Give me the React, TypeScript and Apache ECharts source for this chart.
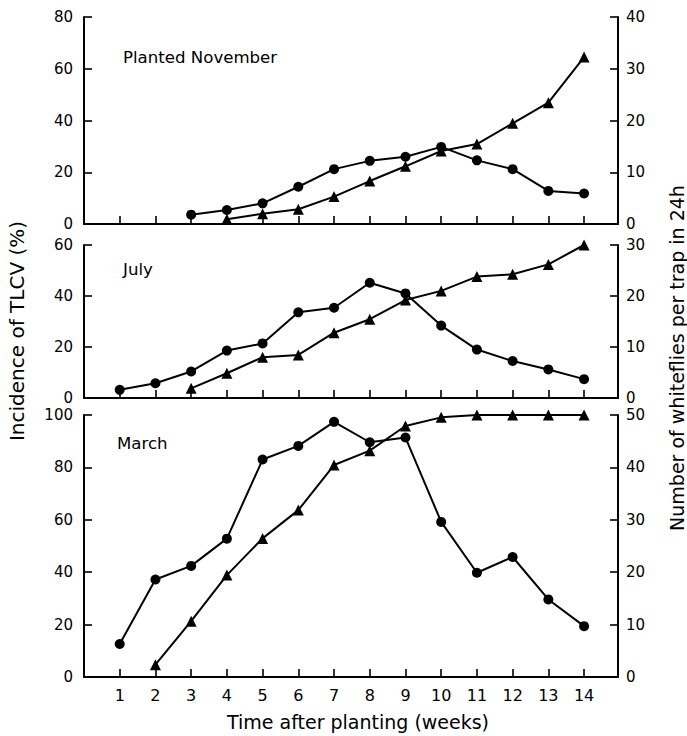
import React, { useEffect, useRef } from 'react';
import * as echarts from 'echarts';

const weeks = [1, 2, 3, 4, 5, 6, 7, 8, 9, 10, 11, 12, 13, 14];
const weekTicks = ['1', '2', '3', '4', '5', '6', '7', '8', '9', '10', '11', '12', '13', '14'];

// Planted November
const novWhiteflies = [null, null, 1.8, 2.7, 4.0, 7.2, 10.6, 12.2, 13.0, 14.9, 12.3, 10.6, 6.4, 5.9];
const novIncidence = [null, null, null, 1.8, 4.0, 5.7, 10.6, 16.6, 22.3, 28.2, 30.9, 38.9, 46.9, 64.5];
// July
const julWhiteflies = [1.6, 2.9, 5.2, 9.3, 10.7, 16.8, 17.7, 22.6, 20.5, 14.2, 9.5, 7.25, 5.6, 3.7];
const julIncidence = [null, null, 3.8, 9.7, 16.0, 16.9, 25.6, 30.9, 38.4, 42.0, 47.6, 48.5, 52.4, 60.0];
// March
const marWhiteflies = [6.3, 18.6, 21.2, 26.4, 41.5, 44.1, 48.7, 44.8, 45.7, 29.6, 19.9, 22.9, 14.8, 9.7];
const marIncidence = [null, 4.7, 21.3, 38.9, 52.9, 63.7, 80.9, 86.4, 95.8, 99.1, 100, 100, 100, 100];

const panelLabels = ['Planted November', 'July', 'March'];
const leftMax = [80, 60, 100];
const rightMax = [40, 30, 50];

const FONT = 'DejaVu Sans';

function pairs(vals: (number | null)[]) {
  const out: number[][] = [];
  vals.forEach((v, i) => {
    if (v !== null) out.push([weeks[i], v]);
  });
  return out;
}

export default function App() {
  const ref = useRef<HTMLDivElement>(null);
  useEffect(() => {
    const chart = echarts.init(ref.current!, null, { renderer: 'svg' });
    const grids = [
      { left: 84, right: 69, top: 17, height: 207 },
      { left: 84, right: 69, top: 245, height: 153 },
      { left: 84, right: 69, top: 415, height: 262 },
    ];
    const axisLine = { show: true, onZero: false, lineStyle: { color: '#000', width: 2 } };
    const axisTick = { show: true, inside: true, length: 8, lineStyle: { color: '#000', width: 1.6 } };
    const xAxes = [0, 1, 2].map((g) => ({
      type: 'value',
      gridIndex: g,
      min: 0,
      max: 14.95,
      interval: 1,
      axisLine,
      axisTick,
      splitLine: { show: false },
      axisLabel: {
        show: g === 2,
        color: '#000',
        fontFamily: FONT,
        fontSize: 16,
        margin: 10,
        formatter: (v: number) => (Number.isInteger(v) && v >= 1 && v <= 14 ? weekTicks[v - 1] : ''),
      },
    }));
    const yAxes: any[] = [];
    [0, 1, 2].forEach((g) => {
      yAxes.push({
        type: 'value',
        gridIndex: g,
        position: 'left',
        min: 0,
        max: leftMax[g],
        interval: 20,
        axisLine,
        axisTick,
        splitLine: { show: false },
        axisLabel: { color: '#000', fontFamily: FONT, fontSize: 15, margin: 11 },
      });
      yAxes.push({
        type: 'value',
        gridIndex: g,
        position: 'right',
        min: 0,
        max: rightMax[g],
        interval: 10,
        axisLine,
        axisTick,
        splitLine: { show: false },
        axisLabel: { color: '#000', fontFamily: FONT, fontSize: 15, margin: 8 },
      });
    });
    const circleSets = [novWhiteflies, julWhiteflies, marWhiteflies];
    const triSets = [novIncidence, julIncidence, marIncidence];
    const series: any[] = [];
    [0, 1, 2].forEach((g) => {
      series.push({
        type: 'line',
        xAxisIndex: g,
        yAxisIndex: g * 2 + 1,
        data: pairs(circleSets[g]),
        symbol: 'circle',
        symbolSize: 10,
        clip: false,
        lineStyle: { color: '#000', width: 2 },
        itemStyle: { color: '#000' },
      });
      series.push({
        type: 'line',
        xAxisIndex: g,
        yAxisIndex: g * 2,
        data: pairs(triSets[g]),
        symbol: 'triangle',
        symbolSize: 11,
        clip: false,
        lineStyle: { color: '#000', width: 2 },
        itemStyle: { color: '#000' },
      });
    });
    const labelPos = [
      [123, 57],
      [123, 269],
      [117, 443],
    ];
    const graphic: any[] = panelLabels.map((t, i) => ({
      type: 'text',
      x: labelPos[i][0],
      y: labelPos[i][1],
      style: { text: t, fill: '#000', font: `16.6px "${FONT}"`, textAlign: 'left', textVerticalAlign: 'middle' },
    }));
    graphic.push({
      type: 'text',
      x: 358,
      y: 722,
      style: { text: 'Time after planting (weeks)', fill: '#000', font: `19px "${FONT}"`, textAlign: 'center', textVerticalAlign: 'middle' },
    });
    graphic.push({
      type: 'text',
      x: 17,
      y: 331,
      rotation: Math.PI / 2,
      style: { text: 'Incidence of TLCV (%)', fill: '#000', font: `20px "${FONT}"`, textAlign: 'center', textVerticalAlign: 'middle' },
    });
    graphic.push({
      type: 'text',
      x: 677,
      y: 358,
      rotation: Math.PI / 2,
      style: { text: 'Number of whiteflies per trap in 24h', fill: '#000', font: `19px "${FONT}"`, textAlign: 'center', textVerticalAlign: 'middle' },
    });
    chart.setOption({
      animation: false,
      backgroundColor: '#fff',
      grid: grids,
      xAxis: xAxes,
      yAxis: yAxes,
      series,
      graphic,
    });
    return () => chart.dispose();
  }, []);
  return (
    <div
      ref={ref}
      style={{ position: 'fixed', left: 0, top: 0, width: 687, height: 736, background: '#fff' }}
    />
  );
}
